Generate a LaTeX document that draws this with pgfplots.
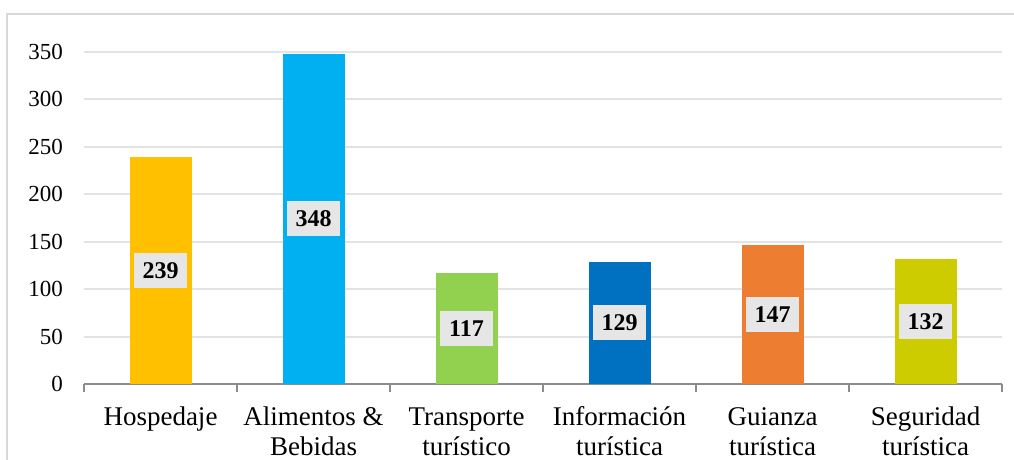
\documentclass[border=0pt]{standalone}
\usepackage{fontspec}
\setmainfont{Liberation Serif}
\usepackage{pgfplots}
\pgfplotsset{compat=1.18}

\definecolor{cHos}{HTML}{FFC000}
\definecolor{cAli}{HTML}{00B0F0}
\definecolor{cTra}{HTML}{92D050}
\definecolor{cInf}{HTML}{0070C0}
\definecolor{cGui}{HTML}{ED7D31}
\definecolor{cSeg}{HTML}{CCCC00}
\definecolor{axisgray}{HTML}{8C8C8C}
\definecolor{gridgray}{HTML}{E3E3E3}
\definecolor{framegray}{HTML}{D9D9D9}
\definecolor{labelgray}{HTML}{E6E6E6}

\begin{document}
\begin{tikzpicture}
\useasboundingbox (0,0) rectangle (1014pt,459pt);
\clip (0,0) rectangle (1014pt,459pt);
% chart frame (only top and left edges are visible)
\draw[framegray, line width=2pt] (7pt,-5pt) -- (7pt,445pt) -- (1020pt,445pt);

\begin{axis}[
    at={(84pt,75pt)}, anchor=south west,
    scale only axis, width=918pt, height=332pt,
    xmin=-0.5, xmax=5.5, ymin=0, ymax=350,
    ybar, bar width=62pt,
    axis x line*=bottom, axis y line*=left,
    x axis line style={-, draw=axisgray, line width=2pt},
    y axis line style={draw=none},
    ytick={0,50,...,350},
    ytick style={draw=none},
    ymajorgrids,
    major grid style={draw=gridgray, line width=2pt},
    xtick={0,...,5},
    xticklabels={{\strut Hospedaje}, {\strut Alimentos \&\\Bebidas}, {\strut Transporte\\turístico}, {\strut Información\\turística}, {\strut Guianza\\turística}, {\strut Seguridad\\turística}},
    minor xtick={-0.5,0.5,...,5.5},
    xtick align=outside,
    major tick length=0pt,
    minor tick length=8pt,
    minor tick style={draw=axisgray, line width=2pt},
    /pgf/number format/assume math mode=true,
    yticklabel style={font=\fontsize{23}{27}\selectfont, inner sep=0pt, xshift=-21pt},
    xticklabel style={font=\fontsize{27}{29.5}\selectfont, align=center, anchor=north, inner sep=0pt, yshift=-21pt},
    nodes near coords,
    visualization depends on={rawy \as \rawy},
    every node near coord/.style={anchor=center, fill=labelgray, inner sep=0pt,
        minimum width=53pt, minimum height=35pt, text=black,
        font=\bfseries\fontsize{24}{24}\selectfont, yshift={-0.474286pt*\rawy}},
]
\addplot[bar shift=0pt, fill=cHos, draw=none] coordinates {(0,239)};
\addplot[bar shift=0pt, fill=cAli, draw=none] coordinates {(1,348)};
\addplot[bar shift=0pt, fill=cTra, draw=none] coordinates {(2,117)};
\addplot[bar shift=0pt, fill=cInf, draw=none] coordinates {(3,129)};
\addplot[bar shift=0pt, fill=cGui, draw=none] coordinates {(4,147)};
\addplot[bar shift=0pt, fill=cSeg, draw=none] coordinates {(5,132)};
\end{axis}
\end{tikzpicture}
\end{document}
